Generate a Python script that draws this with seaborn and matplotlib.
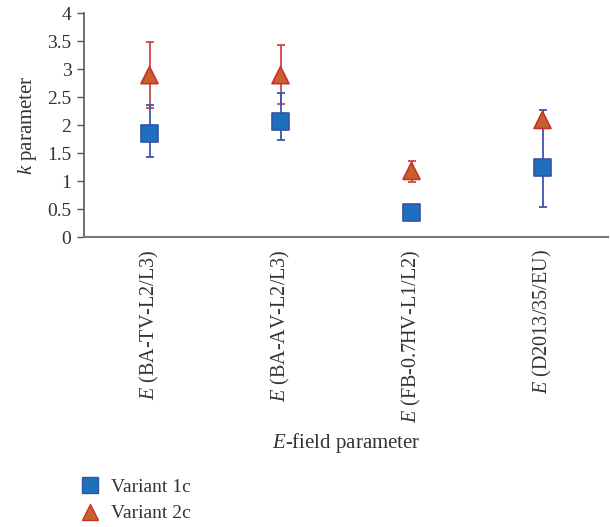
import matplotlib
matplotlib.use("Agg")
import matplotlib.pyplot as plt
import seaborn as sns
import pandas as pd
import numpy as np
from matplotlib.lines import Line2D

categories = ["$E$ (BA-TV-L2/L3)", "$E$ (BA-AV-L2/L3)", "$E$ (FB-0.7HV-L1/L2)", "$E$ (D2013/35/EU)"]
v1_values = [1.84, 2.06, 0.44, 1.24]
v1_err_low = [0.42, 0.33, 0.0, 0.71]
v1_err_high = [0.52, 0.52, 0.0, 1.03]
v2_values = [2.89, 2.89, 1.18, 2.09]
v2_err_low = [0.58, 0.51, 0.19, 0.0]
v2_err_high = [0.60, 0.54, 0.18, 0.0]
series_names = ["Variant 1c", "Variant 2c"]
y_ticks = [0, 0.5, 1, 1.5, 2, 2.5, 3, 3.5, 4]
y_tick_labels = ["0", "0.5", "1", "1.5", "2", "2.5", "3", "3.5", "4"]

sns.set_theme(style="white")
plt.rcParams["font.family"] = ["Liberation Serif", "DejaVu Serif"]
plt.rcParams["mathtext.fontset"] = "custom"
plt.rcParams["mathtext.it"] = "Liberation Serif:italic"
plt.rcParams["mathtext.rm"] = "Liberation Serif"

df = pd.DataFrame({
    "cat": categories * 2,
    "k": v1_values + v2_values,
    "series": [series_names[0]] * 4 + [series_names[1]] * 4,
})

fig = plt.figure(figsize=(6.10, 5.27), dpi=100)
ax = fig.add_axes([84 / 610, 1 - 237 / 527, 524 / 610, 224 / 527])

blue_face, blue_edge, blue_err = "#1f6fbf", "#3552a3", "#3d55ad"
red_face, red_edge, red_err = "#c8602a", "#c83030", "#d04545"

x = np.arange(len(categories))
ax.errorbar(x, v2_values, yerr=[v2_err_low, v2_err_high], fmt="none",
            ecolor=red_err, elinewidth=1.3, capsize=3, capthick=1.3, zorder=2)
ax.errorbar(x, v1_values, yerr=[v1_err_low, v1_err_high], fmt="none",
            ecolor=blue_err, elinewidth=1.3, capsize=3, capthick=1.3, zorder=2)

sns.scatterplot(data=df, x="cat", y="k", hue="series", style="series",
                markers={series_names[0]: "s", series_names[1]: "^"},
                palette={series_names[0]: blue_face, series_names[1]: red_face},
                s=150, ax=ax, legend=False, zorder=3, linewidth=1.2,
                edgecolor=[blue_edge] * 4 + [red_edge] * 4)

ax.set_xlim(-0.5, 3.5)
ax.set_ylim(0, 4)
ax.set_yticks(y_ticks)
ax.set_yticklabels(y_tick_labels, fontsize=14, color="#333333")
ax.set_xticks(x)
ax.set_xticklabels(categories, rotation=90, fontsize=14.5, color="#333333")
ax.tick_params(axis="y", which="both", left=True, length=5, width=1, color="#555555", pad=4)
ax.tick_params(axis="x", bottom=False, length=0, pad=9)
for s in ["top", "right"]:
    ax.spines[s].set_visible(False)
ax.spines["left"].set_color("#555555")
ax.spines["bottom"].set_color("#777777")
ax.spines["bottom"].set_linewidth(1.5)
ax.spines["left"].set_linewidth(1.2)
ax.grid(False)

ax.set_ylabel("$k$ parameter", fontsize=15, color="#333333", labelpad=6)
ax.set_xlabel("$E$-field parameter", fontsize=15, color="#333333", labelpad=6)

handles = [
    Line2D([], [], linestyle="none", marker="s", markersize=11, markerfacecolor=blue_face,
           markeredgecolor=blue_edge, markeredgewidth=1.0, label=series_names[0]),
    Line2D([], [], linestyle="none", marker="^", markersize=11, markerfacecolor=red_face,
           markeredgecolor=red_edge, markeredgewidth=1.0, label=series_names[1]),
]
fig.legend(handles=handles, loc="upper left", bbox_to_anchor=(53 / 610, 1 - 461 / 527),
           frameon=False, fontsize=14, handletextpad=0.1, labelspacing=0.45,
           labelcolor="#333333")

fig.savefig("out.png", dpi=100)
